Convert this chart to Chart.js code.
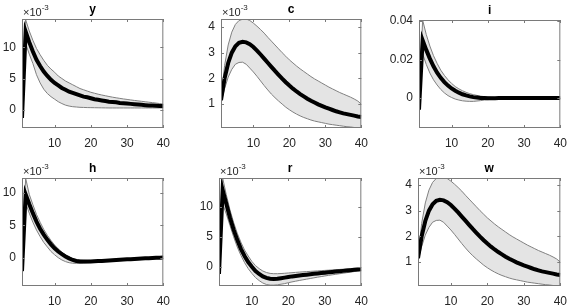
<!DOCTYPE html>
<html>
<head>
<meta charset="utf-8">
<script src="https://cdn.jsdelivr.net/npm/chart.js@4.4.1/dist/chart.umd.min.js"></script>
<style>
  body { margin: 0; background: #fff; }
  #wrap { position: relative; width: 579px; height: 306px; overflow: hidden; }
  canvas { position: absolute; }
</style>
</head>
<body>
<div id="wrap"></div>
<script>
// horizons
const horizons = [1,2,3,4,5,6,7,8,9,10,11,12,13,14,15,16,17,18,19,20,21,22,23,24,25,26,27,28,29,30,31,32,33,34,35,36,37,38,39,40];
const xTicks = [10, 20, 30, 40];

// y (x 1e-3)
const yMed = [-1.3,12.5,10.8,9.3,8.0,7.0,6.1,5.4,4.8,4.3,3.9,3.5,3.2,2.9,2.7,2.5,2.3,2.1,2.0,1.85,1.7,1.6,1.5,1.4,1.3,1.25,1.2,1.1,1.05,1.0,0.95,0.9,0.85,0.8,0.75,0.7,0.68,0.65,0.62,0.6];
const yUp  = [-1.0,14.4,12.6,11.1,9.8,8.8,7.9,7.1,6.5,6.0,5.4,5.0,4.6,4.3,4.0,3.7,3.4,3.2,3.0,2.8,2.65,2.5,2.37,2.25,2.13,2.02,1.92,1.83,1.74,1.66,1.58,1.5,1.43,1.36,1.29,1.22,1.15,1.08,1.0,0.92];
const yLo  = [-1.5,10.6,8.9,7.4,5.6,4.3,3.3,2.6,2.1,1.7,1.3,1.0,0.75,0.6,0.5,0.45,0.4,0.38,0.36,0.35,0.34,0.33,0.32,0.31,0.3,0.3,0.3,0.3,0.3,0.3,0.3,0.3,0.3,0.3,0.3,0.3,0.3,0.3,0.3,0.3];

// c (x 1e-3)
const cMed = [1.15,2.0,2.6,3.0,3.25,3.38,3.42,3.40,3.33,3.22,3.08,2.93,2.77,2.61,2.45,2.29,2.14,1.99,1.85,1.72,1.6,1.49,1.39,1.3,1.21,1.13,1.06,0.99,0.93,0.87,0.82,0.77,0.72,0.68,0.64,0.61,0.58,0.55,0.52,0.5];
const cUp  = [1.2,2.5,3.3,3.8,4.1,4.25,4.3,4.31,4.25,4.15,4.03,3.9,3.76,3.6,3.45,3.3,3.15,3.0,2.86,2.72,2.6,2.48,2.37,2.27,2.17,2.07,1.98,1.9,1.82,1.74,1.66,1.59,1.52,1.45,1.39,1.33,1.27,1.2,1.12,1.0];
const cLo  = [1.05,1.6,2.05,2.35,2.55,2.62,2.63,2.55,2.4,2.25,2.08,1.9,1.72,1.55,1.39,1.25,1.12,1.0,0.88,0.78,0.69,0.61,0.54,0.48,0.43,0.38,0.34,0.31,0.28,0.25,0.22,0.2,0.18,0.16,0.14,0.12,0.11,0.09,0.08,0.07];

// i
const iMed = [-0.006,0.030,0.025,0.0205,0.0165,0.0132,0.0105,0.0083,0.0065,0.005,0.0038,0.0028,0.002,0.0014,0.0009,0.0005,0.0003,0.0001,0,-0.0001,-0.0001,-0.0001,0,0,0,0,0,0,0,0,0,0,0,0,0,0,0,0,0,0];
const iUp  = [-0.005,0.0405,0.033,0.027,0.022,0.018,0.0145,0.0118,0.0095,0.0076,0.006,0.0048,0.0038,0.003,0.0023,0.0018,0.0014,0.001,0.0008,0.0006,0.0005,0.0004,0.0004,0.0003,0.0003,0.0003,0.0003,0.0002,0.0002,0.0002,0.0002,0.0002,0.0002,0.0002,0.0002,0.0002,0.0002,0.0002,0.0002,0.0002];
const iLo  = [-0.007,0.023,0.0175,0.013,0.0095,0.0068,0.0045,0.0027,0.0013,0.0003,-0.0005,-0.001,-0.0014,-0.0016,-0.0017,-0.0017,-0.0015,-0.0013,-0.001,-0.0008,-0.0006,-0.0005,-0.0004,-0.0003,-0.0003,-0.0002,-0.0002,-0.0002,-0.0002,-0.0001,-0.0001,-0.0001,-0.0001,-0.0001,-0.0001,-0.0001,-0.0001,-0.0001,-0.0001,-0.0001];

// h (x 1e-3)
const hMed = [-2.0,9.8,8.3,6.9,5.6,4.5,3.6,2.8,2.1,1.5,1.0,0.6,0.25,-0.05,-0.3,-0.45,-0.52,-0.55,-0.55,-0.53,-0.5,-0.47,-0.44,-0.41,-0.37,-0.34,-0.3,-0.27,-0.24,-0.2,-0.17,-0.14,-0.11,-0.08,-0.05,-0.02,0.0,0.03,0.05,0.07];
const hUp  = [-1.7,12.3,9.8,8.2,6.7,5.5,4.4,3.5,2.7,2.0,1.4,0.9,0.5,0.15,-0.1,-0.25,-0.33,-0.37,-0.38,-0.37,-0.35,-0.33,-0.3,-0.27,-0.24,-0.21,-0.18,-0.15,-0.12,-0.09,-0.06,-0.03,0.0,0.03,0.06,0.09,0.11,0.14,0.17,0.2];
const hLo  = [-2.3,8.5,6.9,5.5,4.3,3.3,2.4,1.7,1.0,0.5,0.05,-0.3,-0.55,-0.72,-0.8,-0.82,-0.8,-0.78,-0.74,-0.7,-0.66,-0.62,-0.58,-0.54,-0.5,-0.47,-0.44,-0.41,-0.38,-0.35,-0.32,-0.29,-0.26,-0.23,-0.2,-0.17,-0.14,-0.11,-0.08,-0.05];

// r (x 1e-3)
const rMed = [-1.2,12.8,10.5,8.2,6.2,4.5,3.0,1.8,0.8,0.0,-0.7,-1.2,-1.6,-1.85,-2.0,-2.05,-2.0,-1.9,-1.8,-1.7,-1.6,-1.52,-1.45,-1.38,-1.31,-1.24,-1.17,-1.1,-1.04,-0.98,-0.92,-0.86,-0.8,-0.74,-0.68,-0.62,-0.56,-0.5,-0.45,-0.4];
const rUp  = [-0.9,14.8,12.0,9.5,7.4,5.6,4.1,2.8,1.8,0.9,0.2,-0.3,-0.7,-0.95,-1.1,-1.15,-1.15,-1.12,-1.08,-1.03,-0.98,-0.93,-0.88,-0.84,-0.8,-0.76,-0.72,-0.68,-0.64,-0.6,-0.56,-0.52,-0.48,-0.44,-0.4,-0.36,-0.32,-0.28,-0.24,-0.2];
const rLo  = [-1.6,10.5,8.8,6.9,5.0,3.3,1.9,0.7,-0.3,-1.1,-1.8,-2.3,-2.7,-2.95,-3.05,-3.05,-3.0,-2.9,-2.8,-2.65,-2.52,-2.4,-2.28,-2.17,-2.06,-1.95,-1.84,-1.73,-1.63,-1.53,-1.43,-1.34,-1.25,-1.16,-1.07,-0.98,-0.89,-0.8,-0.7,-0.6];

// w (x 1e-3)
const wMed = [1.15,2.0,2.6,3.0,3.25,3.38,3.42,3.40,3.33,3.22,3.08,2.93,2.77,2.61,2.45,2.29,2.14,1.99,1.85,1.72,1.6,1.49,1.39,1.3,1.21,1.13,1.06,0.99,0.93,0.87,0.82,0.77,0.72,0.68,0.64,0.61,0.58,0.55,0.52,0.5];
const wUp  = [1.2,2.5,3.3,3.8,4.1,4.25,4.3,4.31,4.25,4.15,4.03,3.9,3.76,3.6,3.45,3.3,3.15,3.0,2.86,2.72,2.6,2.48,2.37,2.27,2.17,2.07,1.98,1.9,1.82,1.74,1.66,1.59,1.52,1.45,1.39,1.33,1.27,1.2,1.12,1.0];
const wLo  = [1.05,1.6,2.05,2.35,2.55,2.62,2.63,2.55,2.4,2.25,2.08,1.9,1.72,1.55,1.39,1.25,1.12,1.0,0.88,0.78,0.69,0.61,0.54,0.48,0.43,0.38,0.34,0.31,0.28,0.25,0.22,0.2,0.18,0.16,0.14,0.12,0.11,0.09,0.08,0.07];

// y tick values per panel
const yTicksY = [0, 5, 10];
const yTicksC = [1, 2, 3, 4];
const yTicksI = [0, 0.02, 0.04];
const yTicksH = [0, 5, 10];
const yTicksR = [0, 5, 10];
const yTicksW = [1, 2, 3, 4];

// panels: title, data, ticks, y range, scaled flag, plot box [left, top, width, height]
const panels = [
    { title: 'y', med: yMed, up: yUp, lo: yLo, ticks: yTicksY, min: -2.9, max: 14.5, exp: true, box: [22, 19, 150, 109] },
    { title: 'c', med: cMed, up: cUp, lo: cLo, ticks: yTicksC, min: 0.07, max: 4.31, exp: true, box: [221, 19, 149, 109] },
    { title: 'i', med: iMed, up: iUp, lo: iLo, ticks: yTicksI, min: -0.0155, max: 0.0405, exp: false, box: [419, 20, 150, 108] },
    { title: 'h', med: hMed, up: hUp, lo: hLo, ticks: yTicksH, min: -4.3, max: 12.3, exp: true, box: [22, 178, 150, 108] },
    { title: 'r', med: rMed, up: rUp, lo: rLo, ticks: yTicksR, min: -3.2, max: 14.8, exp: true, box: [219, 178, 151, 108] },
    { title: 'w', med: wMed, up: wUp, lo: wLo, ticks: yTicksW, min: 0.07, max: 4.27, exp: true, box: [418, 178, 151, 108] }
];

const TOP_PAD = 19, RIGHT_PAD = 6, XAXIS_H = 22;
const FONT = '"Liberation Sans", Arial, sans-serif';
const TEXT = '#262626';

// Box, inside ticks, title and exponent label
const matlabAxes = {
    id: 'matlabAxes',
    afterDraw(chart, args, opts) {
        const { ctx, chartArea: a } = chart;
        const xs = chart.scales.x, ys = chart.scales.y;
        ctx.save();
        ctx.strokeStyle = '#7a7a7a';
        ctx.lineWidth = 1;
        ctx.strokeRect(a.left + 0.5, a.top + 0.5, a.right - a.left - 1, a.bottom - a.top - 1);
        ctx.beginPath();
        xs.ticks.forEach(t => {
            const px = Math.round(xs.getPixelForValue(t.value)) + 0.5;
            ctx.moveTo(px, a.bottom); ctx.lineTo(px, a.bottom - 3);
            ctx.moveTo(px, a.top); ctx.lineTo(px, a.top + 3);
        });
        ys.ticks.forEach(t => {
            const py = Math.round(ys.getPixelForValue(t.value)) + 0.5;
            ctx.moveTo(a.left, py); ctx.lineTo(a.left + 3, py);
            ctx.moveTo(a.right, py); ctx.lineTo(a.right - 3, py);
        });
        ctx.stroke();

        ctx.fillStyle = '#000';
        ctx.font = 'bold 12px ' + FONT;
        ctx.textAlign = 'center';
        ctx.textBaseline = 'alphabetic';
        ctx.fillText(opts.title, (a.left + a.right) / 2, a.top - 6);

        if (opts.exp) {
            ctx.fillStyle = TEXT;
            ctx.textAlign = 'left';
            ctx.font = '11px ' + FONT;
            ctx.fillText('\u00d710', a.left + 1, a.top - 3);
            const w = ctx.measureText('\u00d710').width;
            ctx.font = '8px ' + FONT;
            ctx.fillText('-3', a.left + 1 + w, a.top - 9);
        }
        ctx.restore();
    }
};

const wrap = document.getElementById('wrap');

panels.forEach(p => {
    const [L, T, W, H] = p.box;
    const axisW = Math.min(L, 36);
    const canvas = document.createElement('canvas');
    const cw = W + axisW + RIGHT_PAD, ch = H + TOP_PAD + XAXIS_H;
    canvas.width = cw; canvas.height = ch;
    canvas.style.left = (L - axisW) + 'px';
    canvas.style.top = (T - TOP_PAD) + 'px';
    canvas.style.width = cw + 'px';
    canvas.style.height = ch + 'px';
    wrap.appendChild(canvas);

    new Chart(canvas, {
        type: 'line',
        data: {
            labels: horizons,
            datasets: [
                {
                    data: p.med,
                    borderColor: '#000',
                    borderWidth: 4,
                    pointRadius: 0,
                    fill: false
                },
                {
                    data: p.lo,
                    borderColor: '#808080',
                    borderWidth: 1,
                    pointRadius: 0,
                    fill: false
                },
                {
                    data: p.up,
                    borderColor: '#808080',
                    borderWidth: 1,
                    pointRadius: 0,
                    backgroundColor: '#e4e4e4',
                    fill: '-1'
                }
            ]
        },
        options: {
            responsive: false,
            animation: false,
            devicePixelRatio: 1,
            layout: { padding: { top: TOP_PAD, right: RIGHT_PAD, left: 0, bottom: 0 } },
            plugins: {
                legend: { display: false },
                tooltip: { enabled: false },
                matlabAxes: { title: p.title, exp: p.exp }
            },
            scales: {
                x: {
                    type: 'linear',
                    min: 1,
                    max: 40,
                    border: { display: false },
                    grid: { display: false, drawTicks: false },
                    afterBuildTicks: s => { s.ticks = xTicks.map(v => ({ value: v })); },
                    afterFit: s => { s.height = XAXIS_H; },
                    ticks: {
                        padding: 8,
                        color: TEXT,
                        font: { family: FONT, size: 12 },
                        maxRotation: 0,
                        callback: v => String(v)
                    }
                },
                y: {
                    min: p.min,
                    max: p.max,
                    border: { display: false },
                    grid: { display: false, drawTicks: false },
                    afterBuildTicks: s => { s.ticks = p.ticks.map(v => ({ value: v })); },
                    afterFit: s => { s.width = axisW; },
                    ticks: {
                        padding: 6,
                        color: TEXT,
                        font: { family: FONT, size: 12 },
                        callback: v => String(v)
                    }
                }
            }
        },
        plugins: [matlabAxes]
    });
});
</script>
</body>
</html>
